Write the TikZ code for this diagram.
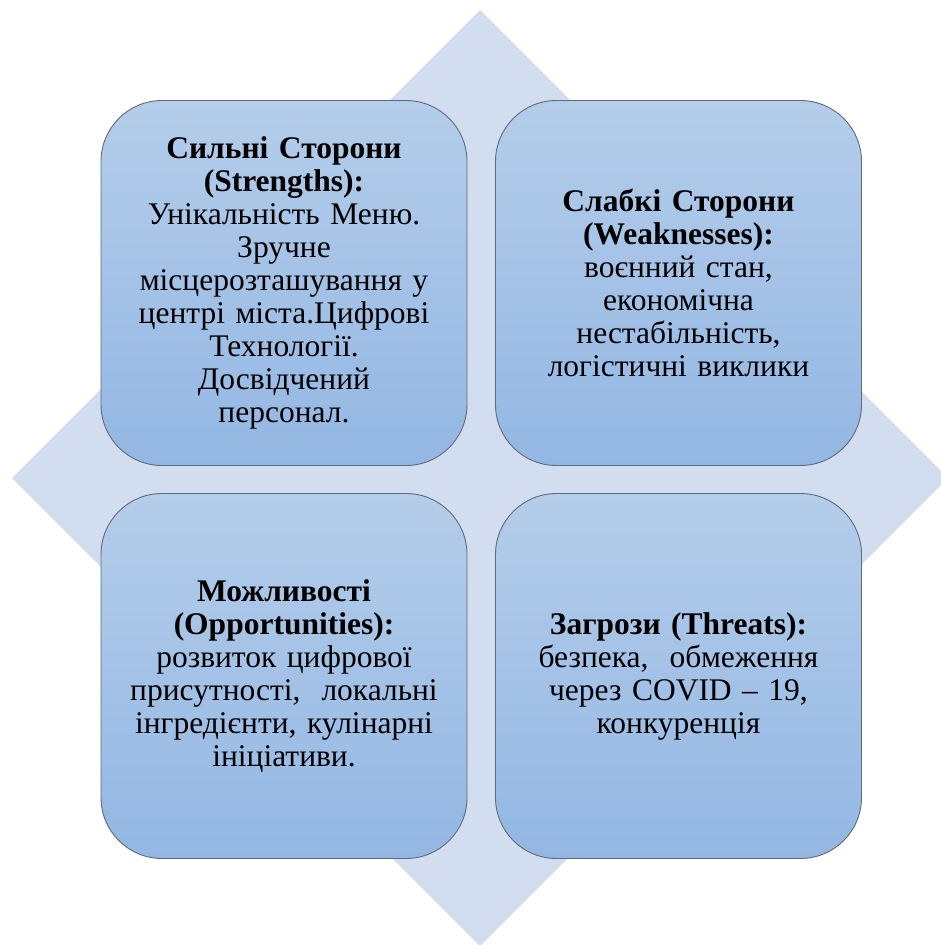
\documentclass[tikz,border=0pt]{standalone}
\usepackage{fontspec}
\setmainfont{Liberation Serif}
\definecolor{diam}{HTML}{D2DDEF}
\definecolor{boxtop}{HTML}{B4CDEA}
\definecolor{boxbot}{HTML}{93B7E3}
\definecolor{boxline}{HTML}{5F6B78}
\begin{document}
\begin{tikzpicture}[x=1pt,y=1pt,
  swotbox/.style={draw=boxline, line width=0.9pt, top color=boxtop, bottom color=boxbot,
    rounded corners=61pt, minimum width=366pt, minimum height=365pt,
    text width=350pt, align=center, inner sep=0pt,
    font=\fontsize{31.5}{33}\selectfont}]
\useasboundingbox (0,0) rectangle (941,-945);
\fill[diam] (480,-10) -- (948,-478) -- (480,-946) -- (12,-478) -- cycle;
\node[swotbox] (TL) at (284,-283) {\textbf{Сильні Сторони}\\\textbf{(Strengths):}\\Унікальність Меню.\\Зручне\\місцерозташування у\\центрі міста.Цифрові\\Технології.\\Досвідчений\\персонал.};
\node[swotbox] (TR) at (678.5,-283) {\textbf{Слабкі Сторони}\\\textbf{(Weaknesses):}\\воєнний стан,\\економічна\\нестабільність,\\логістичні виклики};
\node[swotbox] (BL) at (284,-676) {\textbf{Можливості}\\\textbf{(Opportunities):}\\розвиток цифрової\\присутності,\ \ локальні\\інгредієнти, кулінарні\\ініціативи.};
\node[swotbox] (BR) at (678.5,-676) {\textbf{Загрози (Threats):}\\безпека,\ \ обмеження\\через COVID – 19,\\конкуренція};
\end{tikzpicture}
\end{document}
